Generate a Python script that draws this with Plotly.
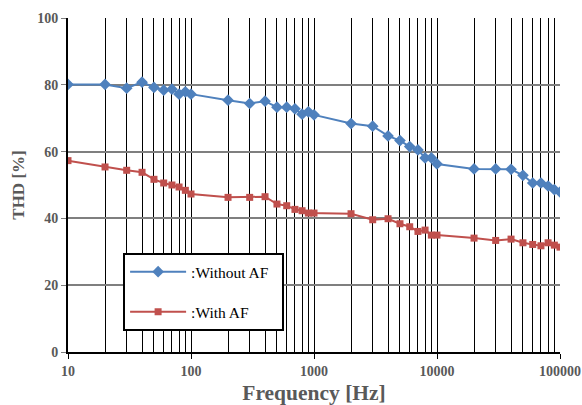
import plotly.graph_objects as go

freq = [10, 20, 30, 40, 50, 60, 70, 80, 90, 100,
        200, 300, 400, 500, 600, 700, 800, 900, 1000,
        2000, 3000, 4000, 5000, 6000, 7000, 8000, 9000, 10000,
        20000, 30000, 40000, 50000, 60000, 70000, 80000, 90000, 100000]

without_af = [80.1, 80.1, 79.0, 80.8, 79.2, 78.4, 78.7, 77.2, 77.9, 77.2,
              75.4, 74.4, 75.1, 73.3, 73.3, 72.8, 71.2, 71.9, 71.0,
              68.4, 67.6, 64.7, 63.3, 61.5, 60.5, 58.1, 58.1, 56.3,
              54.8, 54.8, 54.7, 52.9, 50.6, 50.6, 49.7, 48.6, 47.9]

with_af = [57.3, 55.4, 54.4, 53.8, 51.7, 50.6, 50.0, 49.4, 48.4, 47.3,
           46.3, 46.3, 46.5, 44.3, 43.8, 42.7, 42.3, 41.6, 41.6,
           41.4, 39.6, 39.9, 38.4, 37.5, 36.1, 36.5, 35.0, 35.0,
           34.1, 33.4, 33.8, 32.7, 32.2, 31.8, 32.7, 32.0, 31.4]

x_tick_vals = [10, 100, 1000, 10000, 100000]
x_tick_text = ["10", "100", "1000", "10000", "100000"]
y_tick_vals = [0, 20, 40, 60, 80, 100]

font_family = "Liberation Serif"
gray = "#595959"
pad = "\u00a0" * 2

fig = go.Figure()
fig.add_trace(go.Scatter(
    x=freq, y=without_af, name=":Without AF" + pad, mode="lines+markers",
    line=dict(color="#4F81BD", width=2),
    marker=dict(symbol="diamond", size=9, color="#4F81BD"),
    legendgroup="a",
))
fig.add_trace(go.Scatter(
    x=freq, y=with_af, name=":With AF", mode="lines+markers",
    line=dict(color="#C0504D", width=2),
    marker=dict(symbol="square", size=7, color="#C0504D"),
    legendgroup="b",
))

fig.update_layout(
    width=582, height=405,
    margin=dict(l=68, r=22, t=18, b=53),
    paper_bgcolor="white", plot_bgcolor="white",
    font=dict(family=font_family, color=gray),
    showlegend=True,
    legend=dict(
        x=0.112, y=0.296, xanchor="left", yanchor="top",
        bordercolor="black", borderwidth=2, bgcolor="white",
        font=dict(family=font_family, size=15.5, color="black"),
        tracegroupgap=17,
        itemwidth=56,
        traceorder="grouped",
    ),
    xaxis=dict(
        type="log", range=[1, 5], automargin=False,
        tickvals=x_tick_vals, ticktext=x_tick_text,
        tickfont=dict(family=font_family, size=14, color=gray, weight="bold"),
        showgrid=True, gridcolor="black", gridwidth=1,
        minor=dict(dtick="D1", showgrid=True, gridcolor="black", gridwidth=1),
        showline=True, linecolor="black", linewidth=2,
        ticks="outside", ticklen=5, tickcolor="black",
        zeroline=False,
        title=dict(text="Frequency [Hz]", standoff=8,
                   font=dict(family=font_family, size=21.5, color=gray, weight="bold")),
    ),
    yaxis=dict(
        range=[0, 100], tickvals=y_tick_vals, automargin=False,
        tickfont=dict(family=font_family, size=14, color=gray, weight="bold"),
        showgrid=True, gridcolor="#7f7f7f", gridwidth=1.5,
        showline=True, linecolor="black", linewidth=2,
        ticks="outside", ticklen=5, tickcolor="#7f7f7f",
        zeroline=False,
        title=dict(text="THD [%]", standoff=8,
                   font=dict(family=font_family, size=17, color=gray, weight="bold")),
    ),
)

fig.write_html(
    "out.html",
    config={"displayModeBar": False},
    post_script="document.body.style.margin='0';document.body.style.overflow='hidden';",
)
